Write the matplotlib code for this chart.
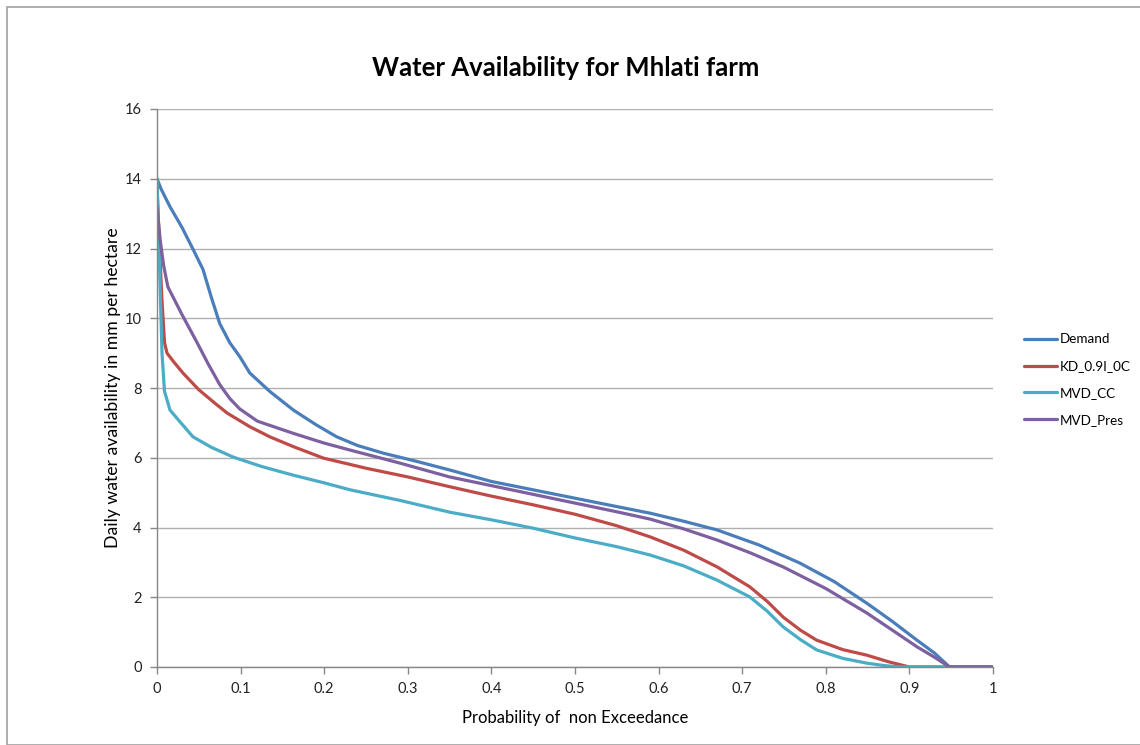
import matplotlib
matplotlib.use("Agg")
import matplotlib.pyplot as plt
from matplotlib.patches import Rectangle

plt.rcParams['font.family'] = ['Lato', 'DejaVu Sans']

# Probability of non exceedance (x) and daily water availability (y) for each series
demand_p = [0.0, 0.005, 0.0155, 0.03, 0.0435, 0.055, 0.065, 0.075, 0.087, 0.099, 0.111,
            0.135, 0.163, 0.19, 0.215, 0.24, 0.271, 0.31, 0.35, 0.4, 0.45, 0.5, 0.55,
            0.59, 0.63, 0.67, 0.72, 0.769, 0.81, 0.849, 0.88, 0.909, 0.93, 0.948, 1.0]
demand_v = [14.0, 13.7, 13.2, 12.6, 11.96, 11.4, 10.6, 9.85, 9.3, 8.9, 8.43,
            7.9, 7.37, 6.95, 6.6, 6.35, 6.13, 5.9, 5.65, 5.32, 5.08, 4.84, 4.6,
            4.41, 4.18, 3.93, 3.5, 2.98, 2.45, 1.83, 1.3, 0.77, 0.4, 0.0, 0.0]

kd_p = [0.0, 0.003, 0.006, 0.009, 0.012, 0.02, 0.031, 0.05, 0.07, 0.084, 0.111,
        0.135, 0.163, 0.199, 0.25, 0.3, 0.35, 0.4, 0.45, 0.5, 0.55, 0.59, 0.63,
        0.67, 0.709, 0.73, 0.749, 0.77, 0.789, 0.82, 0.849, 0.875, 0.9, 1.0]
kd_v = [13.8, 12.0, 10.5, 9.3, 9.0, 8.75, 8.43, 7.95, 7.55, 7.28, 6.89,
        6.6, 6.32, 5.99, 5.7, 5.45, 5.17, 4.9, 4.65, 4.38, 4.05, 3.73, 3.35,
        2.87, 2.3, 1.88, 1.43, 1.05, 0.77, 0.5, 0.34, 0.15, 0.0, 0.0]

cc_p = [0.0, 0.003, 0.006, 0.009, 0.012, 0.0155, 0.025, 0.043, 0.065, 0.091, 0.125,
        0.163, 0.2, 0.231, 0.29, 0.35, 0.4, 0.45, 0.5, 0.55, 0.59, 0.63, 0.67,
        0.709, 0.73, 0.749, 0.77, 0.789, 0.82, 0.849, 0.87, 0.89, 1.0]
cc_v = [14.0, 11.5, 9.0, 7.9, 7.66, 7.37, 7.1, 6.6, 6.3, 6.02, 5.75,
        5.5, 5.28, 5.08, 4.78, 4.44, 4.22, 3.98, 3.7, 3.45, 3.21, 2.9, 2.49,
        2.01, 1.6, 1.15, 0.78, 0.49, 0.25, 0.11, 0.04, 0.0, 0.0]

pres_p = [0.0, 0.004, 0.008, 0.013, 0.03, 0.048, 0.061, 0.075, 0.087, 0.099, 0.12,
          0.163, 0.2, 0.231, 0.29, 0.35, 0.4, 0.45, 0.5, 0.55, 0.59, 0.63, 0.67,
          0.71, 0.749, 0.8, 0.849, 0.88, 0.909, 0.93, 0.948, 1.0]
pres_v = [13.2, 12.2, 11.5, 10.9, 10.1, 9.3, 8.7, 8.1, 7.7, 7.4, 7.05,
          6.7, 6.42, 6.22, 5.85, 5.45, 5.2, 4.95, 4.7, 4.45, 4.24, 3.96, 3.64,
          3.27, 2.87, 2.25, 1.55, 1.05, 0.58, 0.28, 0.0, 0.0]

series = [
    ("Demand", demand_p, demand_v, "#4A7EBB"),
    ("KD_0.9I_0C", kd_p, kd_v, "#BE4B48"),
    ("MVD_CC", cc_p, cc_v, "#4BACC6"),
    ("MVD_Pres", pres_p, pres_v, "#7D60A0"),
]

x_ticks = [0, 0.1, 0.2, 0.3, 0.4, 0.5, 0.6, 0.7, 0.8, 0.9, 1]
x_tick_labels = ["0", "0.1", "0.2", "0.3", "0.4", "0.5", "0.6", "0.7", "0.8", "0.9", "1"]
y_ticks = [0, 2, 4, 6, 8, 10, 12, 14, 16]

fig = plt.figure(figsize=(11.4, 7.45), dpi=100)
ax = fig.add_axes([157 / 1140, 1 - 667 / 745, (993 - 157) / 1140, (667 - 109) / 745])

for name, p, v, c in series:
    ax.plot(p, v, color=c, lw=2.3, label=name, solid_capstyle='round', solid_joinstyle='round')

ax.set_xlim(0, 1)
ax.set_ylim(0, 16)
ax.set_xticks(x_ticks)
ax.set_xticklabels(x_tick_labels)
ax.set_yticks(y_ticks)
ax.tick_params(axis='both', colors='#868686', labelcolor='#222222', labelsize=10.5, length=5, width=1)
ax.tick_params(axis='x', pad=6)
ax.tick_params(axis='y', pad=6)
ax.grid(axis='y', color='#B0B0B0', lw=1)
ax.set_axisbelow(True)
for s in ['top', 'right']:
    ax.spines[s].set_visible(False)
for s in ['left', 'bottom']:
    ax.spines[s].set_color('#868686')
    ax.spines[s].set_linewidth(1)

ax.set_xlabel("Probability of  non Exceedance", fontsize=12, labelpad=10)
ax.set_ylabel("Daily water availability in mm per hectare", fontsize=12.7, labelpad=3)
fig.text(566 / 1140, 1 - 68 / 745, "Water Availability for Mhlati farm",
         ha='center', va='center', fontsize=18.5, fontweight='bold')

leg = ax.legend(loc='center left', bbox_to_anchor=(1.023, 0.515), frameon=False,
                fontsize=9.7, handlelength=2.4, labelspacing=1.1, handletextpad=0.25)

fig.patches.append(Rectangle((7 / 1140, 0), 1, 1 - 7 / 745, transform=fig.transFigure,
                             fill=False, edgecolor='#A8A8A8', lw=1.3))

fig.savefig("out.png", dpi=100)
